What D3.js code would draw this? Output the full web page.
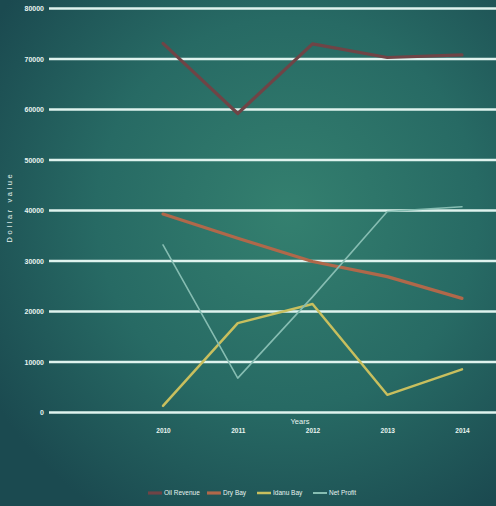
<!DOCTYPE html>
<html>
<head>
<meta charset="utf-8">
<script src="https://cdn.jsdelivr.net/npm/d3@7/dist/d3.min.js"></script>
<style>
  html, body { margin: 0; padding: 0; }
  body { width: 496px; height: 506px; overflow: hidden; }
  svg { display: block; font-family: "Liberation Sans", "DejaVu Sans", sans-serif; }
</style>
</head>
<body>
<svg id="chart" width="496" height="506"></svg>
<script>
// Yearly figures per series (dollar values)
const years = ["2010", "2011", "2012", "2013", "2014"];
const oilRevenue = [73100, 59200, 73000, 70300, 70800];
const dryBay = [39300, 34500, 29900, 26900, 22600];
const idanuBay = [1300, 17700, 21500, 3500, 8550];
const netProfit = [33200, 6800, 22900, 39800, 40750];
const seriesNames = ["Oil Revenue", "Dry Bay", "Idanu Bay", "Net Profit"];
const yTicks = [0, 10000, 20000, 30000, 40000, 50000, 60000, 70000, 80000];

const seriesValues = [oilRevenue, dryBay, idanuBay, netProfit];
const colors = ["#6f4446", "#b0684a", "#c8bf5e", "#86bdb2"];
const widths = [3.2, 3.2, 2.5, 1.6];

const W = 496, H = 506;
const svg = d3.select("#chart");

// Background: teal radial glow
const defs = svg.append("defs");
const grad = defs.append("radialGradient")
  .attr("id", "bg").attr("cx", "58%").attr("cy", "42%").attr("r", "70%");
grad.append("stop").attr("offset", "0%").attr("stop-color", "#34806f");
grad.append("stop").attr("offset", "55%").attr("stop-color", "#276a64");
grad.append("stop").attr("offset", "100%").attr("stop-color", "#1b4a50");
svg.append("rect").attr("width", W).attr("height", H).attr("fill", "url(#bg)");

const x = d3.scalePoint().domain(years).range([163, 462]);
const y = d3.scaleLinear().domain([0, 80000]).range([412.5, 8.5]);

// Horizontal gridlines
svg.append("g").selectAll("line").data(yTicks).join("line")
  .attr("x1", 49).attr("x2", W)
  .attr("y1", d => y(d)).attr("y2", d => y(d))
  .attr("stroke", "#dff3ee").attr("stroke-width", 2.4);

// Y axis tick labels
const yAxis = d3.axisLeft(y).tickValues(yTicks).tickSize(0).tickPadding(0).tickFormat(d3.format("d"));
const gy = svg.append("g").attr("transform", "translate(44,0)").call(yAxis);
gy.select(".domain").remove();
gy.selectAll("text").attr("fill", "#e8f4f0").attr("font-size", 7).attr("font-weight", "bold");

// X axis tick labels
const xAxis = d3.axisBottom(x).tickSize(0).tickPadding(0);
const gx = svg.append("g").attr("transform", "translate(0,428)").call(xAxis);
gx.select(".domain").remove();
gx.selectAll("text").attr("fill", "#e8f4f0").attr("font-size", 6.5).attr("font-weight", "bold");

// Axis titles
svg.append("text").attr("x", 300).attr("y", 424).attr("text-anchor", "middle")
  .attr("fill", "#e8f4f0").attr("font-size", 7.5).text("Years");
svg.append("text").attr("transform", "translate(12,207) rotate(-90)").attr("text-anchor", "middle")
  .attr("fill", "#e8f4f0").attr("font-size", 7.5).attr("letter-spacing", 2.6).text("Dollar value");

// Series lines
const line = d3.line().x((d, i) => x(years[i])).y(d => y(d));
svg.append("g").selectAll("path").data(seriesValues).join("path")
  .attr("d", d => line(d))
  .attr("fill", "none")
  .attr("stroke", (d, i) => colors[i])
  .attr("stroke-width", (d, i) => widths[i])
  .attr("stroke-linejoin", "round")
  .attr("stroke-linecap", "round");

// Legend
const legendX = [148, 207, 257, 313];
const lg = svg.append("g").attr("transform", "translate(0,493)");
const items = lg.selectAll("g").data(seriesNames).join("g")
  .attr("transform", (d, i) => `translate(${legendX[i]},0)`);
items.append("line").attr("x1", 0).attr("x2", 14).attr("y1", 0).attr("y2", 0)
  .attr("stroke", (d, i) => colors[i]).attr("stroke-width", (d, i) => Math.max(widths[i], 2));
items.append("text").attr("x", 16).attr("y", 2.3)
  .attr("fill", "#e8f4f0").attr("font-size", 6.5).text(d => d);
</script>
</body>
</html>
